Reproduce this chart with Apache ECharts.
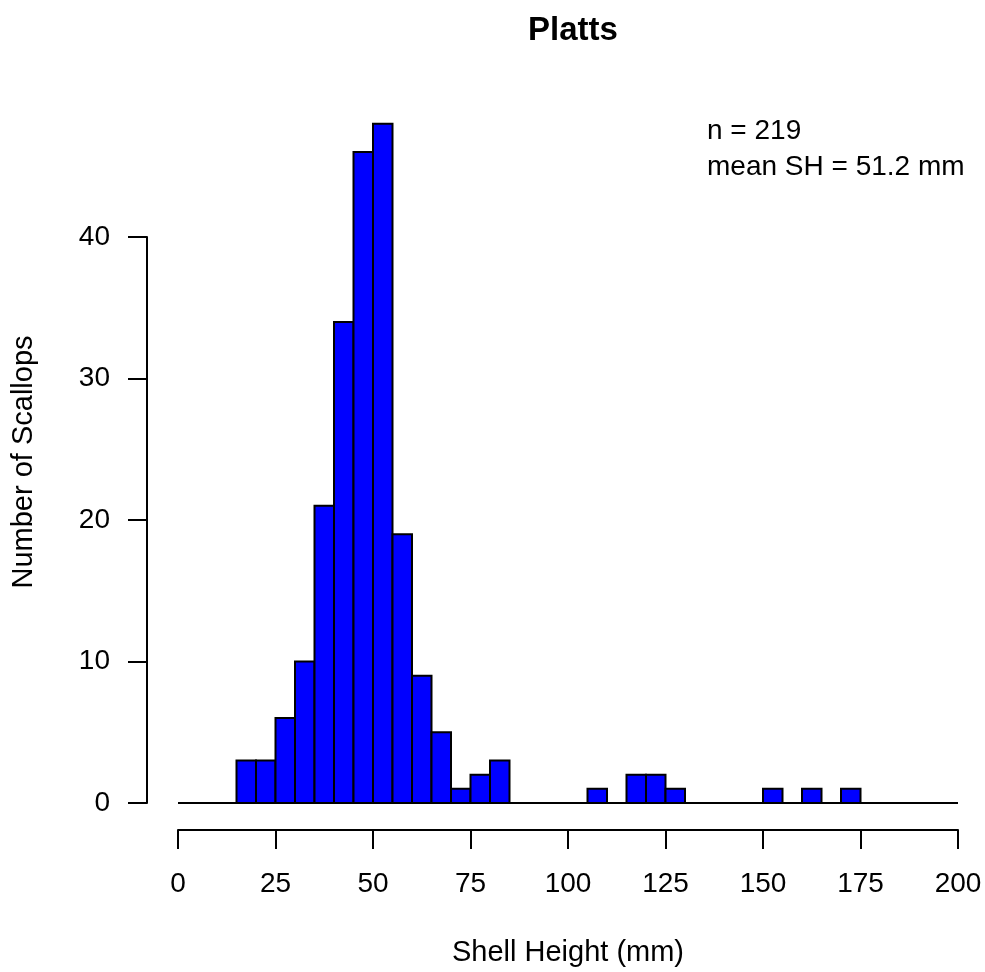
<!DOCTYPE html>
<html>
<head>
<meta charset="utf-8">
<title>Platts</title>
<script src="https://cdn.jsdelivr.net/npm/echarts@6/dist/echarts.min.js"></script>
<style>
  html, body { margin: 0; padding: 0; background: #fff; }
  #content { width: 985px; height: 972px; }
</style>
</head>
<body>
<div id="content"></div>
<script>
// bin lower edges (mm), 5 mm wide
const binStart = [15, 20, 25, 30, 35, 40, 45, 50, 55, 60, 65, 70, 75, 80, 85, 90,
  95, 100, 105, 110, 115, 120, 125, 130, 135, 140, 145, 150, 155, 160, 165, 170];
const counts = [3, 3, 6, 10, 21, 34, 46, 48, 19, 9, 5, 1, 2, 3, 0, 0,
  0, 0, 1, 0, 2, 2, 1, 0, 0, 0, 0, 1, 0, 1, 0, 1];
const binWidth = 5;
const xTicks = [0, 25, 50, 75, 100, 125, 150, 175, 200];
const yTicks = [0, 10, 20, 30, 40];
const baseline = [[0, 0], [200, 0]];

const font = "Liberation Sans, Arial, sans-serif";

let myChart = echarts.init(document.getElementById("content"));

let histData = binStart.map((s, i) => [s, s + binWidth, counts[i]]);

myChart.setOption({
  animation: false,
  title: {
    text: "Platts",
    left: 568,
    textAlign: "center",
    top: 9,
    textStyle: { fontFamily: font, fontSize: 33, fontWeight: "bold", color: "#000" },
  },
  grid: {
    left: 178,
    right: 27,
    top: 237,
    bottom: 168,
  },
  xAxis: {
    type: "value",
    min: xTicks[0],
    max: xTicks[xTicks.length - 1],
    interval: 25,
    offset: 27,
    name: "Shell Height (mm)",
    nameLocation: "middle",
    nameGap: 108,
    nameTextStyle: { fontFamily: font, fontSize: 29, color: "#000" },
    axisLine: { show: true, onZero: false, lineStyle: { color: "#000", width: 2 } },
    axisTick: { show: true, length: 19, lineStyle: { color: "#000", width: 2 } },
    axisLabel: { margin: 40, fontFamily: font, fontSize: 28, color: "#000" },
    splitLine: { show: false },
  },
  yAxis: {
    type: "value",
    min: yTicks[0],
    max: yTicks[yTicks.length - 1],
    interval: 10,
    offset: 31,
    axisLine: { show: true, onZero: false, lineStyle: { color: "#000", width: 2 } },
    axisTick: { show: true, length: 19, lineStyle: { color: "#000", width: 2 } },
    axisLabel: { margin: 37, fontFamily: font, fontSize: 28, color: "#000" },
    splitLine: { show: false },
  },
  graphic: [
    {
      type: "text",
      x: 24,
      y: 462,
      rotation: Math.PI / 2,
      style: {
        text: "Number of Scallops",
        font: "29px " + font,
        fill: "#000",
        align: "center",
        verticalAlign: "middle",
      },
    },
    {
      type: "text",
      x: 707,
      y: 131,
      style: { text: "n = 219", font: "28px " + font, fill: "#000", verticalAlign: "middle" },
    },
    {
      type: "text",
      x: 707,
      y: 167,
      style: { text: "mean SH = 51.2 mm", font: "28px " + font, fill: "#000", verticalAlign: "middle" },
    },
  ],
  series: [
    {
      type: "line",
      data: baseline,
      symbol: "none",
      lineStyle: { color: "#000", width: 2 },
      z: 1,
    },
    {
      type: "custom",
      clip: false,
      data: histData,
      encode: { x: [0, 1], y: 2 },
      renderItem: function (params, api) {
        let p0 = api.coord([api.value(0), api.value(2)]);
        let p1 = api.coord([api.value(1), 0]);
        return {
          type: "rect",
          shape: { x: p0[0], y: p0[1], width: p1[0] - p0[0], height: p1[1] - p0[1] },
          style: { fill: "#0000FF", stroke: "#000", lineWidth: 2 },
        };
      },
      z: 2,
    },
  ],
});
</script>
</body>
</html>
